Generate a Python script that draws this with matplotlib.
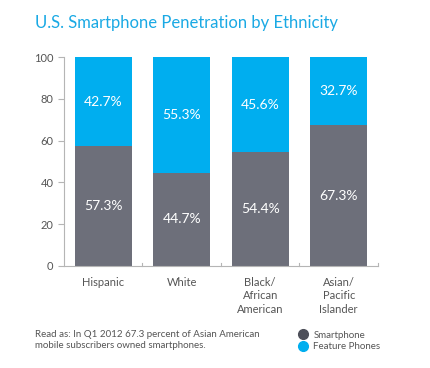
# U.S. smartphone penetration by ethnicity - stacked bars
import matplotlib.pyplot as plt
from matplotlib.lines import Line2D

# Data
categories = ['Hispanic', 'White', 'Black/\nAfrican\nAmerican', 'Asian/\nPacific\nIslander']
smartphone = [57.3, 44.7, 54.4, 67.3]
featurePhones = [42.7, 55.3, 45.6, 32.7]
yTicks = [0, 20, 40, 60, 80, 100]

# Colours
grayBar = '#6d6f7a'
blueBar = '#00aeef'
titleBlue = '#1aa9e4'
textGray = '#555555'
axisGray = '#b5b5b5'

plt.rcParams['font.family'] = ['Lato', 'DejaVu Sans']

fig = plt.figure(figsize=(4.31, 3.68), dpi=100)
ax = fig.add_axes([64 / 431, 1 - 266 / 368, (378 - 64) / 431, (266 - 57) / 368])

x = range(len(categories))
barWidth = 0.726
ax.bar(x, smartphone, width=barWidth, color=grayBar)
ax.bar(x, featurePhones, bottom=smartphone, width=barWidth, color=blueBar)

# Value labels in the middle of each segment
for i in x:
    ax.text(i, smartphone[i] / 2, f'{smartphone[i]}%', ha='center', va='center',
            color='white', fontsize=10)
    ax.text(i, smartphone[i] + featurePhones[i] / 2, f'{featurePhones[i]}%',
            ha='center', va='center', color='white', fontsize=10)

ax.set_xlim(-0.5, len(categories) - 0.5)
ax.set_ylim(0, 100)
ax.set_yticks(yTicks)
ax.tick_params(axis='y', colors=axisGray, labelcolor=textGray, labelsize=8, length=4, width=0.8)

# Category labels centred, with small ticks on the boundaries
ax.set_xticks(list(x))
ax.set_xticklabels(categories, fontsize=8, color=textGray, linespacing=1.25)
ax.tick_params(axis='x', length=0, pad=8)
for b in [0.5, 1.5, 2.5, 3.5]:
    ax.plot([b, b], [0, 1.6], color=axisGray, lw=0.8, clip_on=False)

for side in ['top', 'right']:
    ax.spines[side].set_visible(False)
for side in ['left', 'bottom']:
    ax.spines[side].set_color(axisGray)
    ax.spines[side].set_linewidth(0.8)

# Title and footnote
fig.text(35 / 431, 1 - 23 / 368, 'U.S. Smartphone Penetration by Ethnicity',
         color=titleBlue, fontsize=12, va='center', ha='left')
fig.text(35 / 431, 1 - 340 / 368,
         'Read as: In Q1 2012 67.3 percent of Asian American\nmobile subscribers owned smartphones.',
         color=textGray, fontsize=7, va='center', ha='left', linespacing=1.4)

# Legend
handles = [
    Line2D([], [], marker='o', linestyle='', color='#4d4f59', markersize=7),
    Line2D([], [], marker='o', linestyle='', color=blueBar, markersize=7),
]
fig.legend(handles, ['Smartphone', 'Feature Phones'], loc='center left',
           bbox_to_anchor=(288 / 431, 1 - 341 / 368), frameon=False, fontsize=7,
           handletextpad=0.1, labelspacing=0.25, labelcolor=textGray, borderpad=0)

fig.savefig('out.png', dpi=100, facecolor='white')
